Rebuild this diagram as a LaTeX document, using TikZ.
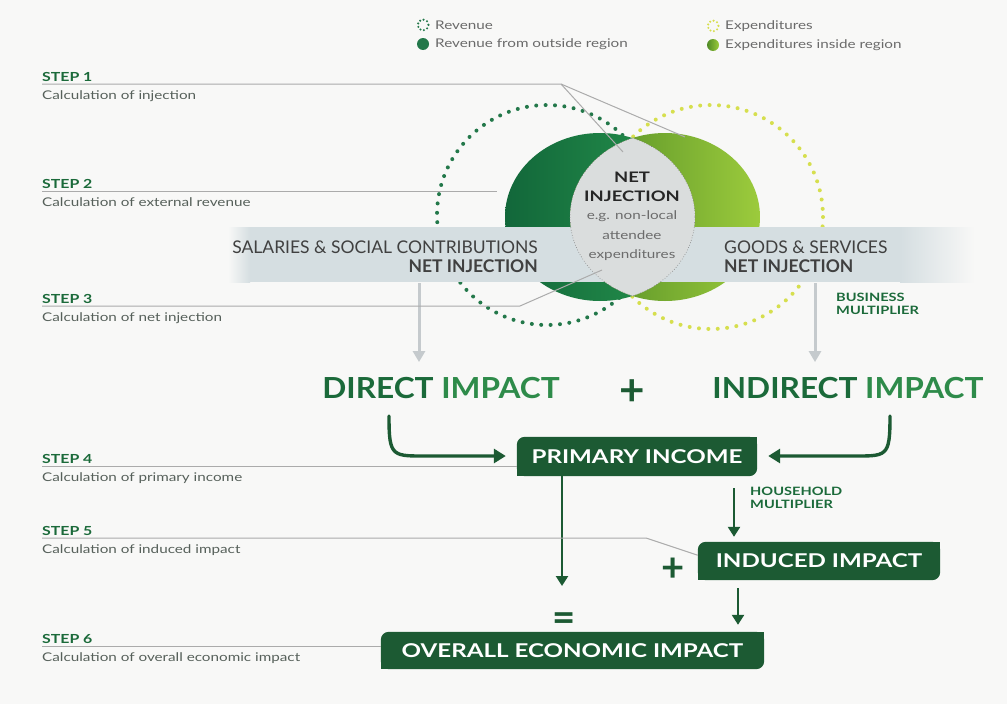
\documentclass[tikz,border=0pt]{standalone}
\usepackage{fontspec}
\setmainfont{Lato}
\newfontfamily\widesans{Lato}[FakeStretch=1.27]
\newfontfamily\headsans{Lato}[FakeStretch=1.09]
\usetikzlibrary{arrows.meta}
\usetikzlibrary{positioning}
\usetikzlibrary{calc}
\usetikzlibrary{backgrounds}

\definecolor{pagebg}{HTML}{F8F8F7}
\definecolor{deepgreen}{HTML}{1C5A33}
\definecolor{titlegreen}{HTML}{1B6A3A}
\definecolor{midgreen}{HTML}{2E8B4A}
\definecolor{darkleaf}{HTML}{12673A}
\definecolor{brightleaf}{HTML}{27964E}
\definecolor{olivegreen}{HTML}{4F8A25}
\definecolor{limegreen}{HTML}{9CCB3C}
\definecolor{dotgreen}{HTML}{23784A}
\definecolor{dotyellow}{HTML}{D6DF4E}
\definecolor{bandgray}{HTML}{D5DEE1}
\definecolor{lensgray}{HTML}{DADDDD}
\definecolor{leadergray}{HTML}{ABABAB}
\definecolor{dropgray}{HTML}{C5CACD}
\definecolor{labelgray}{HTML}{56605A}
\definecolor{legendgray}{HTML}{6A6A6A}

\tikzset{
  leader/.style={draw=leadergray, line width=1pt},
  steptitle/.style={font=\widesans\fontsize{12.5}{13}\selectfont\bfseries, text=titlegreen, inner sep=0pt, anchor=base west},
  stepnote/.style={font=\widesans\fontsize{12}{13}\selectfont, text=labelgray, inner sep=0pt, anchor=base west},
  legendtext/.style={font=\widesans\fontsize{12}{14}\selectfont, text=legendgray, inner sep=0pt, anchor=west},
  bandtext/.style={font=\fontsize{17.5}{19}\selectfont, text=black!75, inner sep=0pt},
  impact/.style={font=\headsans\fontsize{29}{30}\selectfont\bfseries, text=titlegreen, inner sep=2pt},
  sign/.style={font=\fontsize{40}{40}\selectfont\bfseries, text=deepgreen, inner sep=1pt},
  multiplier/.style={font=\widesans\fontsize{11.5}{12.5}\selectfont\bfseries, text=titlegreen, inner sep=0pt, anchor=west, align=left},
  leafbox/.style={text=white, font=\widesans\fontsize{19}{20}\selectfont\bfseries, inner sep=0pt},
  dotring/.style={line width=4pt, line cap=round, dash pattern=on 0pt off 9.4pt},
  legenddots/.style={line width=2.3pt, line cap=round, dash pattern=on 0pt off 3.7pt},
  dropline/.style={draw=dropgray, line width=3pt, -{Triangle[width=12pt,length=11pt]}},
  flow/.style={draw=deepgreen, line width=2.4pt, -{Triangle[width=12pt,length=10pt]}},
  swoosh/.style={draw=deepgreen, line width=3.4pt, line cap=round, -{Triangle[width=14pt,length=12pt]}}
}

\begin{document}
\begin{tikzpicture}[x=1pt, y=-1pt]
  \useasboundingbox (0,0) rectangle (1007,704);
  \begin{scope}[on background layer]
    \fill[pagebg] (0,0) rectangle (1007,704);
  \end{scope}

  % legend
  \draw[legenddots, dotgreen] (423,25) circle (5.5);
  \fill[dotgreen] (423,44) circle (6);
  \draw[legenddots, dotyellow] (713,26) circle (5.5);
  \shade[left color=olivegreen, right color=limegreen] (713,45) circle (6);
  \node[legendtext] (revenue) at (435,25) {Revenue};
  \node[legendtext] (revout) at (435,44) {Revenue from outside region};
  \node[legendtext] (expend) at (725,26) {Expenditures};
  \node[legendtext] (expin) at (725,45) {Expenditures inside region};

  % dotted rings behind the two leaves
  \draw[dotring, dotyellow] (711,217) circle (112);
  \draw[dotring, dotgreen] (547,215) circle (110);
  \shade[left color=darkleaf, right color=brightleaf] (600,217) ellipse [x radius=95, y radius=84];
  \shade[left color=olivegreen, right color=limegreen] (665,217) ellipse [x radius=95, y radius=84];

  % band across the leaves
  \fill[bandgray] (249,227) rectangle (901,282);
  \shade[left color=pagebg, right color=bandgray] (228,227) rectangle (250,282);
  \shade[left color=bandgray, right color=pagebg] (900,227) rectangle (975,282);

  % overlap of the two leaves
  \begin{scope}
    \clip (600,217) ellipse [x radius=95, y radius=84];
    \fill[lensgray] (665,217) ellipse [x radius=95, y radius=84];
    \draw[black!55, line width=0.6pt, dotted] (665,217) ellipse [x radius=95, y radius=84];
  \end{scope}
  \begin{scope}
    \clip (665,217) ellipse [x radius=95, y radius=84];
    \draw[black!55, line width=0.6pt, dotted] (600,217) ellipse [x radius=95, y radius=84];
  \end{scope}
  \node[font=\widesans\fontsize{14.5}{19}\selectfont\bfseries, text=black!85, align=center, inner sep=0pt] (lenstitle) at (632,187) {NET\\INJECTION};
  \node[font=\widesans\fontsize{12}{19.5}\selectfont, text=black!58, align=center, inner sep=0pt] (lensnote) at (632,236) {e.g. non-local\\attendee\\expenditures};

  \node[bandtext, anchor=east, align=right] (salaries) at (538,257) {SALARIES \& SOCIAL CONTRIBUTIONS\\\textbf{NET INJECTION}};
  \node[bandtext, anchor=west, align=left] (goods) at (724,257) {GOODS \& SERVICES\\\textbf{NET INJECTION}};
  \node[multiplier] (business) at (836,304) {BUSINESS\\MULTIPLIER};

  % impacts
  \node[impact] (direct) at (441,388) {DIRECT \textcolor{midgreen}{IMPACT}};
  \node[sign, font=\fontsize{44}{44}\selectfont\bfseries] (plusA) at (632,393) {+};
  \node[impact] (indirect) at (848,388) {INDIRECT \textcolor{midgreen}{IMPACT}};

  \coordinate (dropL) at (419,283);
  \coordinate (dropR) at (815,283);
  \draw[dropline, shorten >=13pt] (dropL) -- (dropL |- direct.north);
  \draw[dropline, shorten >=13pt] (dropR) -- (dropR |- indirect.north);

  % boxes
  \node[leafbox, minimum width=240, minimum height=39] (primary) at (637,456.5) {PRIMARY INCOME};
  \node[leafbox, minimum width=242, minimum height=38] (induced) at (819,561) {INDUCED IMPACT};
  \node[leafbox, minimum width=383, minimum height=37] (overall) at (572.5,650.5) {OVERALL ECONOMIC IMPACT};
  \begin{scope}[on background layer]
    \foreach \b in {primary,induced,overall}{
      \fill[deepgreen, rounded corners=8pt] (\b.south west) rectangle (\b.north east);
      \fill[deepgreen] (\b.north east) rectangle ++(-12,12);
      \fill[deepgreen] (\b.south west) rectangle ++(12,-12);
    }
  \end{scope}

  \coordinate (dcurve) at (389,416);
  \coordinate (icurve) at (890,416);
  \draw[swoosh, shorten >=11pt] (dcurve) .. controls (389,458) and (392,456) .. (430,456) -- (primary.west |- 0,456);
  \draw[swoosh, shorten >=11pt] (icurve) .. controls (890,458) and (887,456) .. (850,456) -- (primary.east |- 0,456);

  \node[multiplier] (household) at (750,498) {HOUSEHOLD\\MULTIPLIER};
  \node[sign] (plusB) at (673,570) {+};
  \node[sign] (equal) at (564,622) {=};

  \coordinate (eqtip) at (562,586);
  \coordinate (hhx) at (734,500);
  \coordinate (ovx) at (738,600);
  \draw[flow] (primary.south -| eqtip) -- (eqtip);
  \draw[flow, shorten <=12pt, shorten >=5pt] (primary.south -| hhx) -- (induced.north -| hhx);
  \draw[flow, shorten <=8pt, shorten >=7pt] (induced.south -| ovx) -- (overall.north -| ovx);

  % step labels and their leader lines
  \foreach \n/\y/\note in {1/84/Calculation of injection,
                           2/191/Calculation of external revenue,
                           3/306/Calculation of net injection,
                           4/466/Calculation of primary income,
                           5/538/Calculation of induced impact,
                           6/646/Calculation of overall economic impact}{
    \coordinate (l\n) at (42,\y);
    \node[steptitle] (step\n) at (42,\y-2.5) {STEP \n};
    \node[stepnote] (calc\n) at (42,\y+15) {\note};
  }
  \coordinate (k1) at (561,84);
  \coordinate (t1a) at (623,152);
  \coordinate (t1b) at (685,137);
  \coordinate (t2) at (497,191);
  \coordinate (k3) at (520,306);
  \coordinate (t3) at (602,270);
  \coordinate (k5) at (646,538);
  \draw[leader] (l1) -- (k1) -- (t1a);
  \draw[leader] (k1) -- (t1b);
  \draw[leader] (l2) -- (t2);
  \draw[leader] (l3) -- (k3) -- (t3);
  \draw[leader] (l4) -- (l4 -| primary.west);
  \draw[leader] (l5) -- (k5) -- ($(induced.north west)!0.35!(induced.south west)$);
  \draw[leader] (l6) -- (l6 -| overall.west);
\end{tikzpicture}
\end{document}
